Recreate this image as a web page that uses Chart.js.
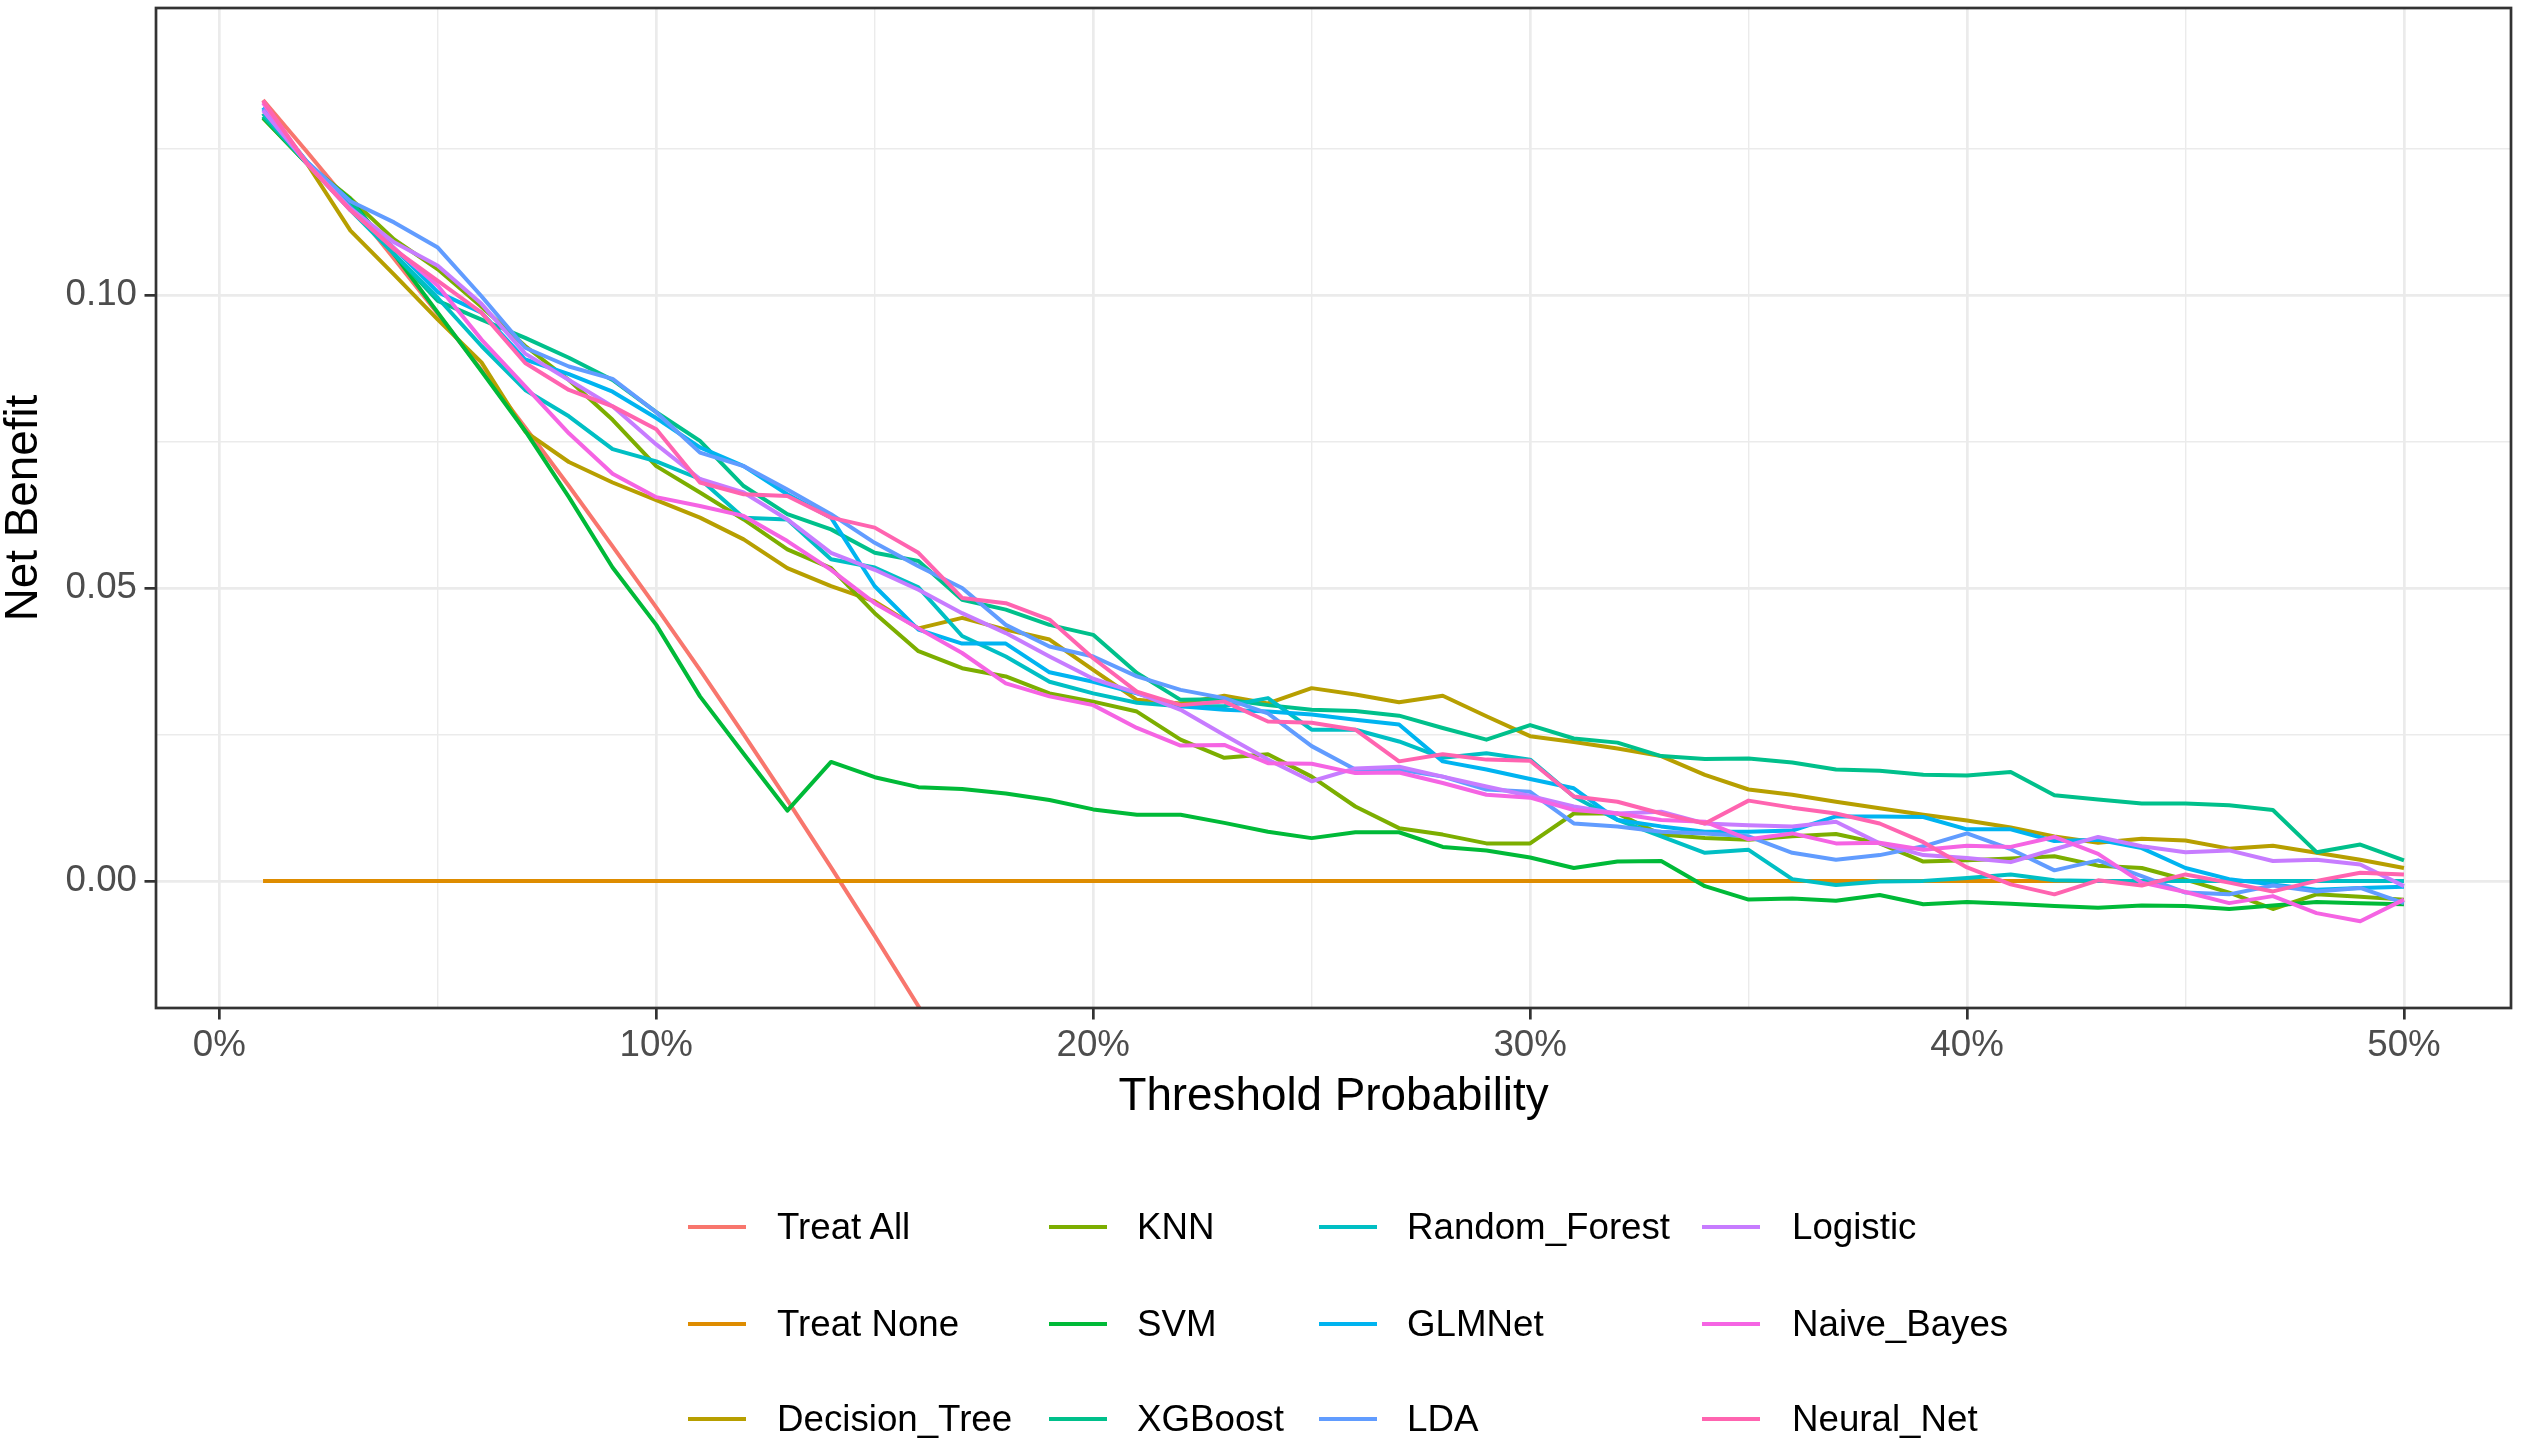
<!DOCTYPE html>
<html><head><meta charset="utf-8">
<script src="https://cdn.jsdelivr.net/npm/chart.js@4.4.1/dist/chart.umd.min.js"></script>
<style>
html,body{margin:0;padding:0;background:#fff;}
#wrap{position:relative;width:2522px;height:1453px;background:#fff;}
#c{position:absolute;left:0;top:0;}
.lgt{position:absolute;font-family:"Liberation Sans",Arial,Helvetica,sans-serif;font-size:36.7px;line-height:40px;color:#000;white-space:nowrap;transform:translateY(-50%);}
.lgk{position:absolute;height:4px;width:58px;transform:translateY(-50%);}
</style></head><body>
<div id="wrap"><canvas id="c" width="2522" height="1453" style="width:2522px;height:1453px"></canvas></div>
<script>
// ---------- data ----------
const thresholds = [0.01,0.02,0.03,0.04,0.05,0.06,0.07,0.08,0.09,0.10,
  0.11,0.12,0.13,0.14,0.15,0.16,0.17,0.18,0.19,0.20,
  0.21,0.22,0.23,0.24,0.25,0.26,0.27,0.28,0.29,0.30,
  0.31,0.32,0.33,0.34,0.35,0.36,0.37,0.38,0.39,0.40,
  0.41,0.42,0.43,0.44,0.45,0.46,0.47,0.48,0.49,0.50];

const treatAll = [0.1333,0.1245,0.1155,0.1062,0.0968,0.0872,0.0774,0.0674,0.0571,0.0467,
  0.0360,0.0250,0.0138,0.0023,-0.0094,-0.0214,-0.0337,-0.0463,-0.0593,-0.0725,
  null,null,null,null,null,null,null,null,null,null,
  null,null,null,null,null,null,null,null,null,null,
  null,null,null,null,null,null,null,null,null,null];

const treatNone = [0,0,0,0,0,0,0,0,0,0, 0,0,0,0,0,0,0,0,0,0, 0,0,0,0,0,0,0,0,0,0,
  0,0,0,0,0,0,0,0,0,0, 0,0,0,0,0,0,0,0,0,0];

const decisionTree = [0.131,0.1225,0.111,0.1035,0.0958,0.0885,0.0767,0.0715,0.068,0.065,
  0.062,0.0583,0.0534,0.0503,0.0477,0.0431,0.0449,0.0429,0.0412,0.036,
  0.0309,0.0303,0.0316,0.0303,0.0329,0.0318,0.0305,0.0316,0.0281,0.0247,
  0.0237,0.0226,0.0213,0.0181,0.0156,0.0147,0.0135,0.0124,0.0113,0.0103,
  0.0091,0.0076,0.0065,0.0072,0.0069,0.0055,0.006,0.0048,0.0036,0.0022];

const knn = [0.1302,0.1225,0.1165,0.1095,0.1044,0.098,0.0913,0.0855,0.0787,0.0708,
  0.0663,0.0617,0.0566,0.0534,0.0457,0.0392,0.0363,0.0349,0.032,0.0306,
  0.0289,0.0241,0.021,0.0216,0.0178,0.0127,0.009,0.0079,0.0064,0.0064,
  0.0115,0.0115,0.0079,0.0073,0.007,0.0076,0.008,0.0064,0.0033,0.0035,
  0.0038,0.0042,0.0026,0.0022,0.0002,-0.002,-0.0048,-0.0023,-0.0027,-0.0032];

const svm = [0.1303,0.1225,0.1163,0.107,0.097,0.087,0.0768,0.0655,0.0535,0.0437,
  0.0315,0.0217,0.012,0.0203,0.0177,0.016,0.0157,0.0149,0.0138,0.0122,
  0.0113,0.0113,0.0099,0.0084,0.0073,0.0083,0.0083,0.0058,0.0052,0.004,
  0.0022,0.0033,0.0034,-0.0009,-0.0032,-0.003,-0.0034,-0.0024,-0.004,-0.0036,
  -0.0039,-0.0043,-0.0046,-0.0042,-0.0043,-0.0048,-0.0042,-0.0036,-0.0038,-0.004];

const xgboost = [0.1305,0.1225,0.116,0.107,0.099,0.0958,0.0927,0.0893,0.0855,0.080,
  0.0751,0.0674,0.0626,0.060,0.056,0.0546,0.048,0.0463,0.0437,0.042,
  0.0355,0.0309,0.031,0.030,0.0292,0.029,0.0282,0.0261,0.0241,0.0266,
  0.0243,0.0236,0.0213,0.0208,0.0209,0.0202,0.019,0.0188,0.0181,0.018,
  0.0186,0.0146,0.0139,0.0132,0.0132,0.0129,0.0121,0.0049,0.0062,0.0035];

const randomForest = [0.131,0.1225,0.1145,0.107,0.0995,0.0913,0.0838,0.0793,0.0737,0.0716,
  0.0686,0.062,0.0617,0.0549,0.0535,0.0501,0.0418,0.0383,0.034,0.032,
  0.0304,0.0298,0.0298,0.0312,0.0258,0.0258,0.0238,0.021,0.0218,0.0207,
  0.0144,0.0104,0.0076,0.0048,0.0053,0.0003,-0.0007,-0.0001,0.0,0.0005,
  0.0011,0.0001,0.0,0.0,0.0,0.0,0.0,0.0,0.0,0.0];

const glmnet = [0.132,0.1228,0.115,0.108,0.1005,0.097,0.089,0.0865,0.0835,0.079,
  0.074,0.0708,0.066,0.062,0.0503,0.0429,0.0405,0.0405,0.0356,0.034,
  0.032,0.0298,0.0292,0.0289,0.0284,0.0275,0.0267,0.0204,0.019,0.0174,
  0.0158,0.0104,0.0093,0.0084,0.0084,0.0086,0.011,0.011,0.0109,0.0088,
  0.0088,0.0068,0.007,0.0056,0.0022,0.0003,-0.0006,-0.0015,-0.0012,-0.001];

const lda = [0.1318,0.1228,0.116,0.1124,0.1081,0.0998,0.091,0.0878,0.0857,0.080,
  0.0731,0.0708,0.0668,0.0626,0.0577,0.0537,0.050,0.0437,0.040,0.0383,
  0.0349,0.0326,0.0312,0.0286,0.023,0.019,0.019,0.0178,0.0156,0.0152,
  0.0098,0.0093,0.0084,0.0081,0.0076,0.0048,0.0036,0.0044,0.0059,0.0081,
  0.0054,0.0018,0.0035,0.0008,-0.002,-0.0023,-0.0008,-0.0018,-0.0012,-0.0038];

const logistic = [0.1315,0.1225,0.1148,0.109,0.105,0.0985,0.090,0.0855,0.081,0.0745,
  0.0686,0.0663,0.0617,0.056,0.0531,0.0497,0.0457,0.0423,0.0383,0.0345,
  0.0321,0.0292,0.0249,0.0207,0.017,0.0192,0.0195,0.0178,0.0161,0.0145,
  0.0127,0.0115,0.0118,0.0098,0.0095,0.0093,0.0101,0.0064,0.0044,0.0039,
  0.0032,0.0054,0.0075,0.0059,0.0049,0.0052,0.0034,0.0036,0.0028,-0.0009];

const naiveBayes = [0.1328,0.1225,0.1145,0.108,0.1016,0.0924,0.0844,0.0764,0.0695,0.0655,
  0.064,0.0623,0.058,0.0531,0.0474,0.0431,0.0389,0.0337,0.0315,0.030,
  0.0261,0.0231,0.0232,0.0201,0.020,0.0184,0.0185,0.0167,0.0147,0.0142,
  0.0121,0.0115,0.0104,0.0101,0.0071,0.0081,0.0064,0.0065,0.0053,0.006,
  0.0058,0.0075,0.0046,-0.0003,-0.0019,-0.0038,-0.0026,-0.0055,-0.0069,-0.0032];

const neuralNet = [0.1332,0.1225,0.1145,0.1078,0.1024,0.097,0.0884,0.0838,0.081,0.0771,
  0.068,0.066,0.0657,0.062,0.0603,0.056,0.0483,0.0474,0.0446,0.038,
  0.0323,0.030,0.0306,0.0272,0.027,0.0258,0.0204,0.0216,0.0207,0.0205,
  0.0144,0.0135,0.0115,0.0098,0.0137,0.0125,0.0115,0.0098,0.0066,0.0023,
  -0.0006,-0.0023,0.0001,-0.0008,0.0011,-0.0003,-0.0018,0.0,0.0014,0.0011];

const seriesNames = ["Treat All","Treat None","Decision_Tree","KNN","SVM","XGBoost",
  "Random_Forest","GLMNet","LDA","Logistic","Naive_Bayes","Neural_Net"];
const seriesValues = [treatAll,treatNone,decisionTree,knn,svm,xgboost,
  randomForest,glmnet,lda,logistic,naiveBayes,neuralNet];
const seriesColors = ["#F8766D","#DE8C00","#B79F00","#7CAE00","#00BA38","#00C08B",
  "#00BFC4","#00B4F0","#619CFF","#C77CFF","#F564E3","#FF64B0"];

const xTickValues = [0,0.05,0.10,0.15,0.20,0.25,0.30,0.35,0.40,0.45,0.50];
const xTickLabels = ["0%","","10%","","20%","","30%","","40%","","50%"];
const yTickValues = [0,0.025,0.05,0.075,0.10,0.125];
const yTickLabels = ["0.00","","0.05","","0.10",""];

// ---------- layout ----------
const FONT = '"Liberation Sans", Arial, Helvetica, sans-serif';
const GRID = '#EBEBEB';

const datasets = seriesNames.map((name, i) => ({
  label: name,
  data: seriesValues[i].map((v, j) => ({x: thresholds[j], y: v})),
  borderColor: seriesColors[i],
  backgroundColor: seriesColors[i],
  borderWidth: 4,
  pointRadius: 0,
  fill: false,
  tension: 0,
  spanGaps: false,
  borderJoinStyle: 'round',
  order: seriesNames.length - i
}));

const panelBorder = {
  id: 'panelBorder',
  beforeDraw(chart) {
    const c = chart.ctx; c.save(); c.fillStyle = '#fff';
    c.fillRect(0, 0, chart.width, chart.height); c.restore();
  },
  afterDraw(chart) {
    const {ctx, chartArea: a} = chart;
    ctx.save(); ctx.strokeStyle = '#333333'; ctx.lineWidth = 2.7;
    ctx.strokeRect(a.left, a.top, a.right - a.left, a.bottom - a.top);
    ctx.restore();
  }
};

new Chart(document.getElementById('c'), {
  type: 'line',
  data: {datasets},
  plugins: [panelBorder],
  options: {
    responsive: false,
    devicePixelRatio: 1,
    animation: false,
    layout: {padding: {left: 0, right: 11, top: 8, bottom: 333}},
    plugins: {legend: {display: false}, tooltip: {enabled: false}},
    scales: {
      x: {
        type: 'linear', min: -0.0145, max: 0.5245,
        afterBuildTicks: s => { s.ticks = xTickValues.map(v => ({value: v})); },
        afterFit: s => { s.height = 112; s.paddingLeft = 0; s.paddingRight = 0; },
        border: {display: false},
        grid: {
          color: GRID,
          lineWidth: c => (c.index % 2 === 0 ? 2.7 : 1.4),
          tickLength: 11.5,
          tickColor: c => (c.index % 2 === 0 ? '#333333' : 'rgba(0,0,0,0)'),
          tickWidth: 2.7
        },
        ticks: {
          autoSkip: false, maxRotation: 0, padding: 8,
          color: '#4D4D4D', font: {family: FONT, size: 36.7, lineHeight: 1.0},
          callback: (v, i) => xTickLabels[i]
        },
        title: {
          display: true, text: 'Threshold Probability', color: '#000',
          font: {family: FONT, size: 45.8, lineHeight: 1.0},
          padding: {top: 0, bottom: 0}
        }
      },
      y: {
        type: 'linear', min: -0.0217, max: 0.1490,
        afterBuildTicks: s => { s.ticks = yTickValues.map(v => ({value: v})); },
        afterFit: s => { s.width = 156; s.paddingTop = 0; s.paddingBottom = 0; },
        border: {display: false},
        grid: {
          color: GRID,
          lineWidth: c => (c.index % 2 === 0 ? 2.7 : 1.4),
          tickLength: 11.5,
          tickColor: c => (c.index % 2 === 0 ? '#333333' : 'rgba(0,0,0,0)'),
          tickWidth: 2.7
        },
        ticks: {
          autoSkip: false, padding: 7.5,
          color: '#4D4D4D', font: {family: FONT, size: 36.7, lineHeight: 1.0},
          callback: (v, i) => yTickLabels[i]
        },
        title: {
          display: true, text: 'Net Benefit', color: '#000',
          font: {family: FONT, size: 45.8, lineHeight: 1.0},
          padding: {top: 1, bottom: 0}
        }
      }
    }
  }
});

// ---------- legend (4 columns x 3 rows, filled by column) ----------
const legendKeyX = [688, 1049, 1319, 1702];
const legendTextX = [777, 1137, 1407, 1792];
const legendRowY = [1227, 1324, 1419];
const wrap = document.getElementById('wrap');
seriesNames.forEach((name, i) => {
  const col = Math.floor(i / 3), row = i % 3;
  const k = document.createElement('div');
  k.className = 'lgk';
  k.style.left = legendKeyX[col] + 'px';
  k.style.top = legendRowY[row] + 'px';
  k.style.background = seriesColors[i];
  wrap.appendChild(k);
  const t = document.createElement('div');
  t.className = 'lgt';
  t.style.left = legendTextX[col] + 'px';
  t.style.top = legendRowY[row] + 'px';
  t.textContent = name;
  wrap.appendChild(t);
});
</script>
</body></html>
